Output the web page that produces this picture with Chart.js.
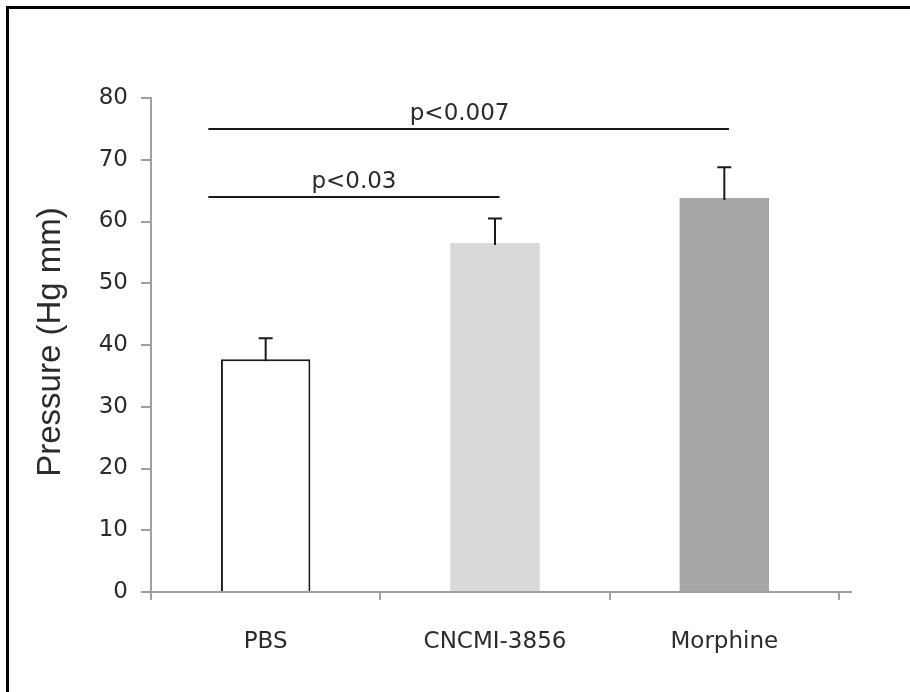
<!DOCTYPE html>
<html>
<head>
<meta charset="utf-8">
<script src="https://cdn.jsdelivr.net/npm/chart.js@4"></script>
<style>
  html, body { margin: 0; padding: 0; background: #fff; overflow: hidden; }
  .frame { position: absolute; left: 6px; top: 6px; width: 940px; height: 720px; border-left: 3px solid #000; border-top: 3px solid #000; }
  #wrap { position: absolute; left: 0; top: 0; width: 910px; height: 692px; }
</style>
</head>
<body>
<div class="frame"></div>
<div id="wrap"><canvas id="chart" width="910" height="692"></canvas></div>
<script>
const categories = ['PBS', 'CNCMI-3856', 'Morphine'];
const meanPressure = [37.7, 56.5, 63.8];
const errorUp = [3.4, 4.0, 5.0];
const yTicks = [0, 10, 20, 30, 40, 50, 60, 70, 80];

// significance lines, all start at PBS
const sigLabels = ['p<0.03', 'p<0.007'];
const sigTargets = [1, 2];
const sigLevels = [64.0, 74.9];

const AXIS_GRAY = '#a0a0a0';
const TEXT = '#2b2b2b';

const extrasPlugin = {
  id: 'extras',
  afterDatasetsDraw: function(chart) {
    const ctx = chart.ctx;
    const xs = chart.scales.x;
    const ys = chart.scales.y;
    const meta = chart.getDatasetMeta(0);

    ctx.save();
    ctx.strokeStyle = '#1a1a1a';
    ctx.lineWidth = 2;

    // upper error bars
    meta.data.forEach(function(bar, i) {
      const top = ys.getPixelForValue(meanPressure[i] + errorUp[i]);
      ctx.beginPath();
      ctx.moveTo(bar.x, bar.y + 2);
      ctx.lineTo(bar.x, top);
      ctx.moveTo(bar.x - 7, top);
      ctx.lineTo(bar.x + 7, top);
      ctx.stroke();
    });

    // significance lines; label sits a bit left of the line centre
    const step = xs.getPixelForValue(1) - xs.getPixelForValue(0);
    ctx.fillStyle = TEXT;
    ctx.font = '23px "DejaVu Sans"';
    ctx.textAlign = 'center';
    ctx.textBaseline = 'alphabetic';
    sigLabels.forEach(function(label, i) {
      const x0 = xs.getPixelForValue(0) - step * 0.25;
      const x1 = xs.getPixelForValue(sigTargets[i]) + step * 0.02;
      const py = Math.round(ys.getPixelForValue(sigLevels[i]));
      ctx.beginPath();
      ctx.moveTo(x0, py);
      ctx.lineTo(x1, py);
      ctx.stroke();
      const shift = sigTargets[i] === 2 ? 9 : 0;
      ctx.fillText(label, (x0 + x1) / 2 - shift, py - 9);
    });
    ctx.restore();
  },
  afterDraw: function(chart) {
    const ctx = chart.ctx;
    const area = chart.chartArea;
    ctx.save();
    // x axis runs a little past the last tick
    ctx.strokeStyle = AXIS_GRAY;
    ctx.lineWidth = 2;
    ctx.beginPath();
    ctx.moveTo(area.right, area.bottom);
    ctx.lineTo(area.right + 13, area.bottom);
    ctx.stroke();

    // y axis title
    ctx.translate(51, (area.top + area.bottom) / 2 - 3);
    ctx.rotate(-Math.PI / 2);
    ctx.fillStyle = TEXT;
    ctx.font = '33px "Liberation Sans"';
    ctx.textAlign = 'center';
    ctx.textBaseline = 'middle';
    ctx.fillText('Pressure (Hg mm)', 0, 0);
    ctx.restore();
  }
};

new Chart(document.getElementById('chart'), {
  type: 'bar',
  data: {
    labels: categories,
    datasets: [{
      data: meanPressure,
      backgroundColor: ['#ffffff', '#d9d9d9', '#a6a6a6'],
      borderColor: ['#1a1a1a', 'rgba(0,0,0,0)', 'rgba(0,0,0,0)'],
      borderWidth: [2, 0, 0],
      barPercentage: 0.39,
      categoryPercentage: 1
    }]
  },
  options: {
    responsive: false,
    animation: false,
    layout: { padding: { top: 98, right: 71, bottom: 0, left: 0 } },
    plugins: { legend: { display: false }, tooltip: { enabled: false } },
    scales: {
      x: {
        afterFit: function(s) { s.height = 100; },
        grid: { offset: true, drawOnChartArea: false, tickLength: 8, color: AXIS_GRAY, lineWidth: 2 },
        border: { color: AXIS_GRAY, width: 2 },
        ticks: { color: TEXT, padding: 28, font: { family: 'DejaVu Sans', size: 23 } }
      },
      y: {
        min: 0,
        max: 80,
        afterFit: function(s) { s.width = 151; },
        afterBuildTicks: function(s) { s.ticks = yTicks.map(function(v) { return { value: v }; }); },
        grid: { drawOnChartArea: false, tickLength: 10, color: AXIS_GRAY, lineWidth: 2 },
        border: { color: AXIS_GRAY, width: 2 },
        ticks: { color: TEXT, padding: 13, font: { family: 'DejaVu Sans', size: 23 } }
      }
    }
  },
  plugins: [extrasPlugin]
});
</script>
</body>
</html>
